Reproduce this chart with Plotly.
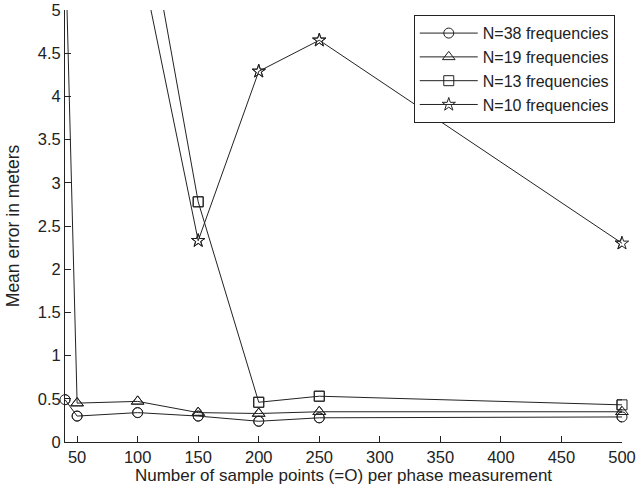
import plotly.graph_objects as go

x_n38 = [40, 50, 100, 150, 200, 250, 500]
y_n38 = [0.49, 0.30, 0.34, 0.30, 0.24, 0.28, 0.29]

x_n19 = [40, 50, 100, 150, 200, 250, 500]
y_n19 = [5.93, 0.45, 0.47, 0.34, 0.33, 0.35, 0.35]

x_n13 = [100, 150, 200, 250, 500]
y_n13 = [6.68, 2.78, 0.46, 0.53, 0.43]

x_n10 = [100, 150, 200, 250, 500]
y_n10 = [5.75, 2.33, 4.29, 4.65, 2.30]

names = ["N=38 frequencies", "N=19 frequencies", "N=13 frequencies", "N=10 frequencies"]
x_ticks = [50, 100, 150, 200, 250, 300, 350, 400, 450, 500]
y_ticks = [0, 0.5, 1, 1.5, 2, 2.5, 3, 3.5, 4, 4.5, 5]
y_tick_labels = ["0", "0.5", "1", "1.5", "2", "2.5", "3", "3.5", "4", "4.5", "5"]

X_MIN, X_MAX, Y_MIN, Y_MAX = 40, 500, 0, 5

series = [
    (x_n38, y_n38, names[0], "circle-open", 10),
    (x_n19, y_n19, names[1], "triangle-up-open", 11),
    (x_n13, y_n13, names[2], "square-open", 10),
    (x_n10, y_n10, names[3], "star-open", 10),
]

LINE = "#222222"
FAM = "Liberation Sans, Arial, sans-serif"
fig = go.Figure()
for xs, ys, name, sym, sz in series:
    fig.add_trace(go.Scatter(
        x=xs, y=ys, name=name, mode="lines+markers",
        line=dict(color=LINE, width=1),
        marker=dict(symbol=sym, size=sz, color=LINE, line=dict(color=LINE, width=1)),
        cliponaxis=True,
    ))
for xs, ys, name, sym, sz in series:
    px = [a for a, b in zip(xs, ys) if Y_MIN <= b <= Y_MAX]
    py = [b for a, b in zip(xs, ys) if Y_MIN <= b <= Y_MAX]
    fig.add_trace(go.Scatter(
        x=px, y=py, mode="markers", showlegend=False, hoverinfo="skip",
        marker=dict(symbol=sym, size=sz, color=LINE, line=dict(color=LINE, width=1)),
        cliponaxis=False,
    ))

fig.update_layout(
    width=640, height=493,
    margin=dict(l=65, r=18, t=10, b=51),
    paper_bgcolor="white", plot_bgcolor="white",
    font=dict(family=FAM, size=16.5, color="#222222"),
    showlegend=True,
    legend=dict(
        x=0.987, y=0.988, xanchor="right", yanchor="top",
        bordercolor="#222222", borderwidth=1, bgcolor="white",
        font=dict(family=FAM, size=16, color="#222222"),
        tracegroupgap=0, itemwidth=58,
    ),
    xaxis=dict(
        range=[X_MIN, X_MAX], tickvals=x_ticks, ticks="inside", ticklen=6,
        tickcolor="#222222", showline=True, linecolor="#222222", linewidth=1,
        showgrid=False, zeroline=False, mirror=False, automargin=False,
        title=dict(text="Number of sample points (=O) per phase measurement", standoff=3,
                   font=dict(size=17)),
    ),
    yaxis=dict(
        range=[Y_MIN, Y_MAX], tickvals=y_ticks, ticktext=y_tick_labels, ticks="inside",
        ticklen=6, tickcolor="#222222", showline=True, linecolor="#222222", linewidth=1,
        showgrid=False, zeroline=False, mirror=False, automargin=False,
        title=dict(text="Mean error in meters", standoff=13, font=dict(size=17.5)),
    ),
)

fig.write_html("out.html", config={"displayModeBar": False},
               post_script="document.body.style.margin='0';")
